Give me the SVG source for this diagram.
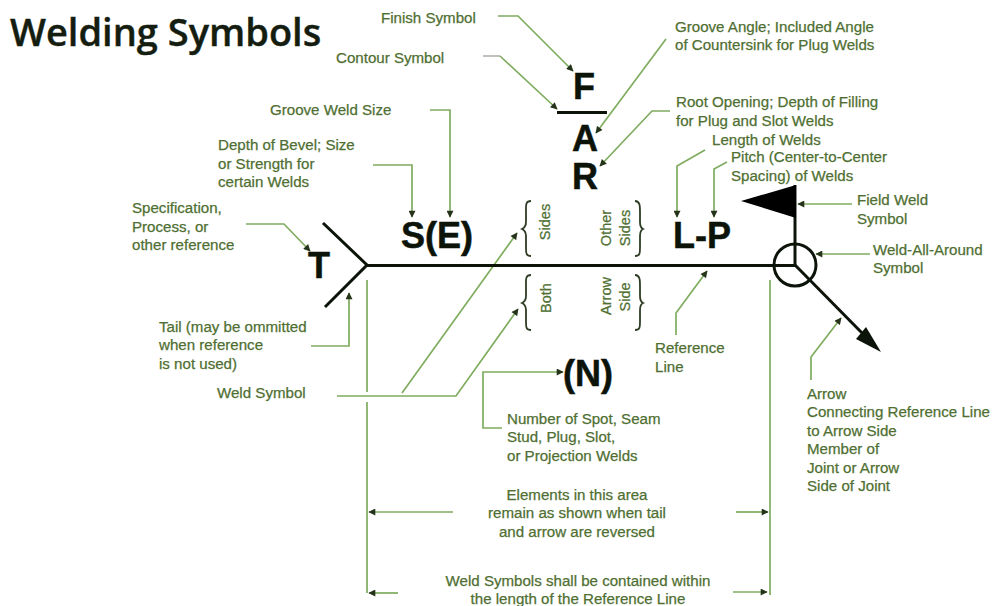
<svg xmlns="http://www.w3.org/2000/svg" width="992" height="606" viewBox="0 0 992 606">
<style>
text{font-family:"Liberation Sans",Arial,sans-serif}
.l{font-size:15.1px;fill:#4f6f32;stroke:#4f6f32;stroke-width:.25}
.v{font-size:14.5px;fill:#4f6f32;stroke:#4f6f32;stroke-width:.25}
.c{text-anchor:middle}
.b{font-size:36px;font-weight:bold;fill:#0c140a;stroke:#0c140a;stroke-width:.5}
.t{font-family:"Open Sans","Noto Sans",sans-serif;font-size:38px;font-weight:600;fill:#141d10;stroke:#141d10;stroke-width:.4}
.g{fill:none;stroke:#7fac5f;stroke-width:1.7}
.k{fill:none;stroke:#0c140a;stroke-width:3}
.br{fill:none;stroke:#2e3d24;stroke-width:1.8}
</style>
<defs>
<marker id="a" viewBox="0 0 10 10" refX="9" refY="5" markerWidth="8" markerHeight="7" markerUnits="userSpaceOnUse" orient="auto"><path d="M0 0L10 5L0 10z" fill="#24331a"/></marker>
</defs>
<rect width="992" height="606" fill="#fff"/>
<g id="title"><text class="t" x="10" y="46">Welding Symbols</text></g>
<g id="connectors">
<path class="g" marker-end="url(#a)" d="M498 16H518L573 71"/>
<path class="g" d="M483 56H500" style="stroke:#b4b8ae"/>
<path class="g" marker-end="url(#a)" d="M500 56L557 109"/>
<path class="g" marker-end="url(#a)" d="M666 39L596 133"/>
<path class="g" marker-end="url(#a)" d="M670 111H652L600 166"/>
<path class="g" marker-end="url(#a)" d="M705 150L677 166V217"/>
<path class="g" marker-end="url(#a)" d="M727 162L714 169V217"/>
<path class="g" marker-end="url(#a)" d="M852 204H798"/>
<path class="g" marker-end="url(#a)" d="M870 254H816"/>
<path class="g" marker-end="url(#a)" d="M430 110H450V217"/>
<path class="g" marker-end="url(#a)" d="M373 165H412V217"/>
<path class="g" marker-end="url(#a)" d="M246 224H284L310 251"/>
<path class="g" marker-end="url(#a)" d="M311 346H349V293"/>
<path class="g" marker-end="url(#a)" d="M337 396H456L518 309"/>
<path class="g" marker-end="url(#a)" d="M402 393L517 233"/>
<path class="g" marker-end="url(#a)" d="M502 428H483V372H563"/>
<path class="g" marker-end="url(#a)" d="M676 335V313L707 271"/>
<path class="g" marker-end="url(#a)" d="M811 380V357L841 318"/>
<path class="g" d="M367 280V392M367 402V593"/>
<path class="g" d="M770 280V595"/>
<path class="g" marker-end="url(#a)" d="M453 512H369"/>
<path class="g" marker-end="url(#a)" d="M736 512H768"/>
<path class="g" marker-end="url(#a)" d="M398 593H369"/>
<path class="g" marker-end="url(#a)" d="M733 592H767"/>
</g>
<g id="reference-line"><path class="k" d="M367 265.500H795"/></g>
<g id="tail"><path class="k" d="M323 223L367 265L325 307"/></g>
<g id="contour-bar"><path class="k" d="M557 112.500H607"/></g>
<g id="weld-all-around"><circle class="k" cx="795" cy="265" r="21"/></g>
<g id="field-flag"><path class="k" d="M795 185V265"/><path d="M741 201L796 185V218z" fill="#000"/></g>
<g id="arrow"><path class="k" d="M795 265L865 336"/><path d="M881 352L856 339L866 327z" fill="#0c140a"/></g>
<g id="brace-upper-left"><path class="br" d="M531 201C525 201 526 206 526 212V222C526 226 524 228 522 229C524 230 526 232 526 236V248C526 253 526 256 531 256"/></g>
<g id="brace-upper-right"><path class="br" d="M635 201C640 201 640 206 640 212V222C640 226 641 228 643 229C641 230 640 232 640 236V248C640 253 640 256 635 256"/></g>
<g id="brace-lower-left"><path class="br" d="M531 275C525 275 526 280 526 286V296C526 300 524 302 522 303C524 304 526 306 526 310V322C526 327 526 330 531 330"/></g>
<g id="brace-lower-right"><path class="br" d="M635 275C640 275 640 280 640 286V296C640 300 641 302 643 303C641 304 640 306 640 310V322C640 327 640 330 635 330"/></g>
<g id="sym-F"><text class="b c" x="584" y="99">F</text></g>
<g id="sym-A"><text class="b c" x="585" y="151">A</text></g>
<g id="sym-R"><text class="b c" x="585" y="189">R</text></g>
<g id="sym-SE"><text class="b" x="401" y="248">S(E)</text></g>
<g id="sym-T"><text class="b" x="308" y="278">T</text></g>
<g id="sym-LP"><text class="b" x="673" y="248">L-P</text></g>
<g id="sym-N"><text class="b" x="563" y="386">(N)</text></g>
<g id="lbl-finish"><text class="l" x="381" y="23">Finish Symbol</text></g>
<g id="lbl-contour"><text class="l" x="336" y="63">Contour Symbol</text></g>
<g id="lbl-groove-size"><text class="l" x="270" y="115">Groove Weld Size</text></g>
<g id="lbl-depth"><text class="l" x="218" y="150">Depth of Bevel; Size</text><text class="l" x="218" y="169">or Strength for</text><text class="l" x="218" y="187">certain Welds</text></g>
<g id="lbl-spec"><text class="l" x="132" y="213">Specification,</text><text class="l" x="132" y="232">Process, or</text><text class="l" x="132" y="250">other reference</text></g>
<g id="lbl-angle"><text class="l" x="675" y="32">Groove Angle; Included Angle</text><text class="l" x="675" y="50">of Countersink for Plug Welds</text></g>
<g id="lbl-root"><text class="l" x="676" y="107">Root Opening; Depth of Filling</text><text class="l" x="676" y="126">for Plug and Slot Welds</text></g>
<g id="lbl-length"><text class="l" x="712" y="145">Length of Welds</text></g>
<g id="lbl-pitch"><text class="l" x="731" y="162">Pitch (Center-to-Center</text><text class="l" x="731" y="181">Spacing) of Welds</text></g>
<g id="lbl-field"><text class="l" x="857" y="205">Field Weld</text><text class="l" x="857" y="224">Symbol</text></g>
<g id="lbl-all-around"><text class="l" x="873" y="255">Weld-All-Around</text><text class="l" x="873" y="273">Symbol</text></g>
<g id="lbl-tail"><text class="l" x="159" y="332">Tail (may be ommitted</text><text class="l" x="159" y="350">when reference</text><text class="l" x="159" y="369">is not used)</text></g>
<g id="lbl-weld"><text class="l" x="217" y="398">Weld Symbol</text></g>
<g id="lbl-number"><text class="l" x="507" y="424">Number of Spot, Seam</text><text class="l" x="507" y="442">Stud, Plug, Slot,</text><text class="l" x="507" y="461">or Projection Welds</text></g>
<g id="lbl-elements"><text class="l c" x="577" y="500">Elements in this area</text><text class="l c" x="577" y="518">remain as shown when tail</text><text class="l c" x="577" y="537">and arrow are reversed</text></g>
<g id="lbl-contained"><text class="l c" x="578" y="586">Weld Symbols shall be contained within</text><text class="l c" x="578" y="604">the length of the Reference Line</text></g>
<g id="lbl-reference"><text class="l" x="655" y="353">Reference</text><text class="l" x="655" y="372">Line</text></g>
<g id="lbl-arrow"><text class="l" x="807" y="399">Arrow</text><text class="l" x="807" y="417">Connecting Reference Line</text><text class="l" x="807" y="436">to Arrow Side</text><text class="l" x="807" y="454">Member of</text><text class="l" x="807" y="473">Joint or Arrow</text><text class="l" x="807" y="491">Side of Joint</text></g>
<g id="lbl-sides"><text class="v c" transform="translate(550 222) rotate(-90)">Sides</text></g>
<g id="lbl-other-sides"><text class="v c" transform="translate(611 228) rotate(-90)">Other</text><text class="v c" transform="translate(630 228) rotate(-90)">Sides</text></g>
<g id="lbl-both"><text class="v c" transform="translate(551 298) rotate(-90)">Both</text></g>
<g id="lbl-arrow-side"><text class="v c" transform="translate(611 296) rotate(-90)">Arrow</text><text class="v c" transform="translate(630 297) rotate(-90)">Side</text></g>
</svg>
